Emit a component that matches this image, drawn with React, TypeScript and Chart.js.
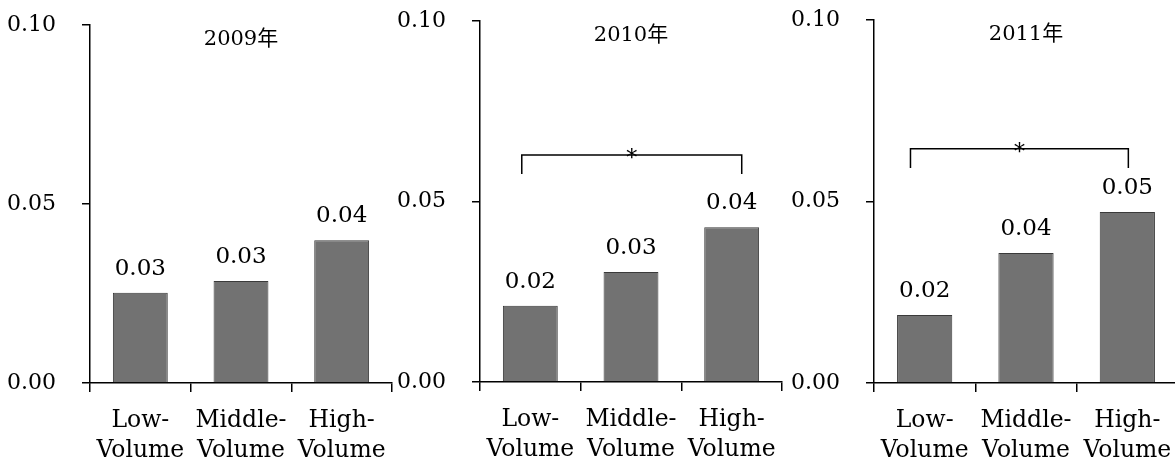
import React, { useEffect, useRef } from 'react';
import { Chart, registerables } from 'chart.js';

Chart.register(...registerables);

const CATEGORIES = [['Low-', 'Volume'], ['Middle-', 'Volume'], ['High-', 'Volume']];
const YEAR_TITLES = ['2009年', '2010年', '2011年'];
const VALUES_2009 = [0.0252, 0.0285, 0.0399];
const VALUES_2010 = [0.0211, 0.0305, 0.0429];
const VALUES_2011 = [0.0187, 0.0358, 0.0471];
const Y_TICKS = [0, 0.05, 0.1];
const SIG_2010 = { from: 0, to: 2, top: 0.0629, foot: 0.0576, label: '*' };
const SIG_2011 = { from: 0, to: 2, top: 0.0645, foot: 0.0592, label: '*' };

const FONT = "'DejaVu Serif', 'Noto Sans CJK JP', serif";

type Panel = {
  title: string;
  values: number[];
  sig: null | { from: number; to: number; top: number; foot: number; label: string };
  left: number;
  width: number;
  yAxisW: number;
  padTop: number;
  padRight: number;
  xAxisH: number;
  insetL: number;
  insetR: number;
};

const PANELS: Panel[] = [
  { title: YEAR_TITLES[0], values: VALUES_2009, sig: null, left: 0, width: 400, yAxisW: 90, padTop: 25, padRight: 8, xAxisH: 83, insetL: 0, insetR: 0 },
  { title: YEAR_TITLES[1], values: VALUES_2010, sig: SIG_2010, left: 390, width: 400, yAxisW: 90, padTop: 21, padRight: 8, xAxisH: 84, insetL: -0.085, insetR: 0.1 },
  { title: YEAR_TITLES[2], values: VALUES_2011, sig: SIG_2011, left: 780, width: 400, yAxisW: 94, padTop: 20, padRight: 2, xAxisH: 83, insetL: -0.14, insetR: 0.01 },
];

const annotPlugin = {
  id: 'annot',
  afterDatasetsDraw(chart: any, _args: any, opts: any) {
    const { ctx, chartArea } = chart;
    const meta = chart.getDatasetMeta(0);
    const data = chart.data.datasets[0].data as number[];
    ctx.save();
    ctx.fillStyle = '#000';
    ctx.textAlign = 'center';
    ctx.textBaseline = 'alphabetic';
    ctx.font = `23px ${FONT}`;
    meta.data.forEach((bar: any, i: number) => {
      ctx.fillText(Number(data[i]).toFixed(2), bar.x, bar.y - 18);
    });
    ctx.font = `21px ${FONT}`;
    ctx.fillText(opts.title, (chartArea.left + chartArea.right) / 2, chartArea.top + 20);
    const sig = opts.sig;
    if (sig) {
      const xs = chart.scales.x;
      const ys = chart.scales.y;
      const x1 = xs.getPixelForValue(sig.from + opts.insetL);
      const x2 = xs.getPixelForValue(sig.to + opts.insetR);
      const yTop = ys.getPixelForValue(sig.top);
      const yFoot = ys.getPixelForValue(sig.foot);
      ctx.strokeStyle = '#000';
      ctx.lineWidth = 1.5;
      ctx.beginPath();
      ctx.moveTo(x1, yFoot);
      ctx.lineTo(x1, yTop);
      ctx.lineTo(x2, yTop);
      ctx.lineTo(x2, yFoot);
      ctx.stroke();
      ctx.font = `22px ${FONT}`;
      ctx.fillText(sig.label, (x1 + x2) / 2, yTop + 10);
    }
    ctx.restore();
  },
};

function PanelChart({ panel }: { panel: Panel }) {
  const ref = useRef<HTMLCanvasElement | null>(null);
  useEffect(() => {
    if (!ref.current) return;
    const chart = new Chart(ref.current, {
      type: 'bar',
      data: {
        labels: CATEGORIES,
        datasets: [
          {
            data: panel.values,
            backgroundColor: '#727272',
            borderColor: '#3a3a3a',
            borderWidth: 1,
            categoryPercentage: 1,
            barPercentage: 0.545,
          },
        ],
      },
      options: {
        responsive: false,
        animation: false,
        devicePixelRatio: 1,
        layout: { padding: { top: panel.padTop, right: panel.padRight, left: 0, bottom: 0 } },
        plugins: {
          legend: { display: false },
          tooltip: { enabled: false },
          title: { display: false },
          annot: { title: panel.title, sig: panel.sig, insetL: panel.insetL, insetR: panel.insetR },
        } as any,
        scales: {
          x: {
            grid: { display: true, drawOnChartArea: false, drawTicks: true, tickLength: 9, color: '#000', lineWidth: 1.5, offset: true },
            border: { display: true, color: '#000', width: 1.5 },
            ticks: {
              color: '#000',
              padding: 14,
              font: { family: FONT, size: 23.5, lineHeight: 1.28 },
              maxRotation: 0,
              autoSkip: false,
            },
            afterFit: (s: any) => {
              s.height = panel.xAxisH;
              s.paddingLeft = 0;
              s.paddingRight = 0;
            },
          },
          y: {
            min: 0,
            max: 0.1,
            grid: { display: true, drawOnChartArea: false, drawTicks: true, tickLength: 8, color: '#000', lineWidth: 1.5 },
            border: { display: true, color: '#000', width: 1.5 },
            ticks: {
              color: '#000',
              padding: 26,
              font: { family: FONT, size: 22 },
              callback: (v: any) => Number(v).toFixed(2),
            },
            afterBuildTicks: (s: any) => {
              s.ticks = Y_TICKS.map((v) => ({ value: v }));
            },
            afterFit: (s: any) => {
              s.width = panel.yAxisW;
              s.paddingTop = 0;
              s.paddingBottom = 0;
            },
          },
        },
      },
      plugins: [annotPlugin],
    });
    return () => chart.destroy();
  }, [panel]);
  return (
    <canvas
      ref={ref}
      width={panel.width}
      height={466}
      style={{ position: 'absolute', left: panel.left, top: 0, width: panel.width, height: 466 }}
    />
  );
}

export default function App() {
  return (
    <div
      style={{
        position: 'absolute',
        left: 0,
        top: 0,
        width: 1175,
        height: 466,
        overflow: 'hidden',
        background: '#fff',
      }}
    >
      {PANELS.map((p) => (
        <PanelChart key={p.title} panel={p} />
      ))}
    </div>
  );
}
